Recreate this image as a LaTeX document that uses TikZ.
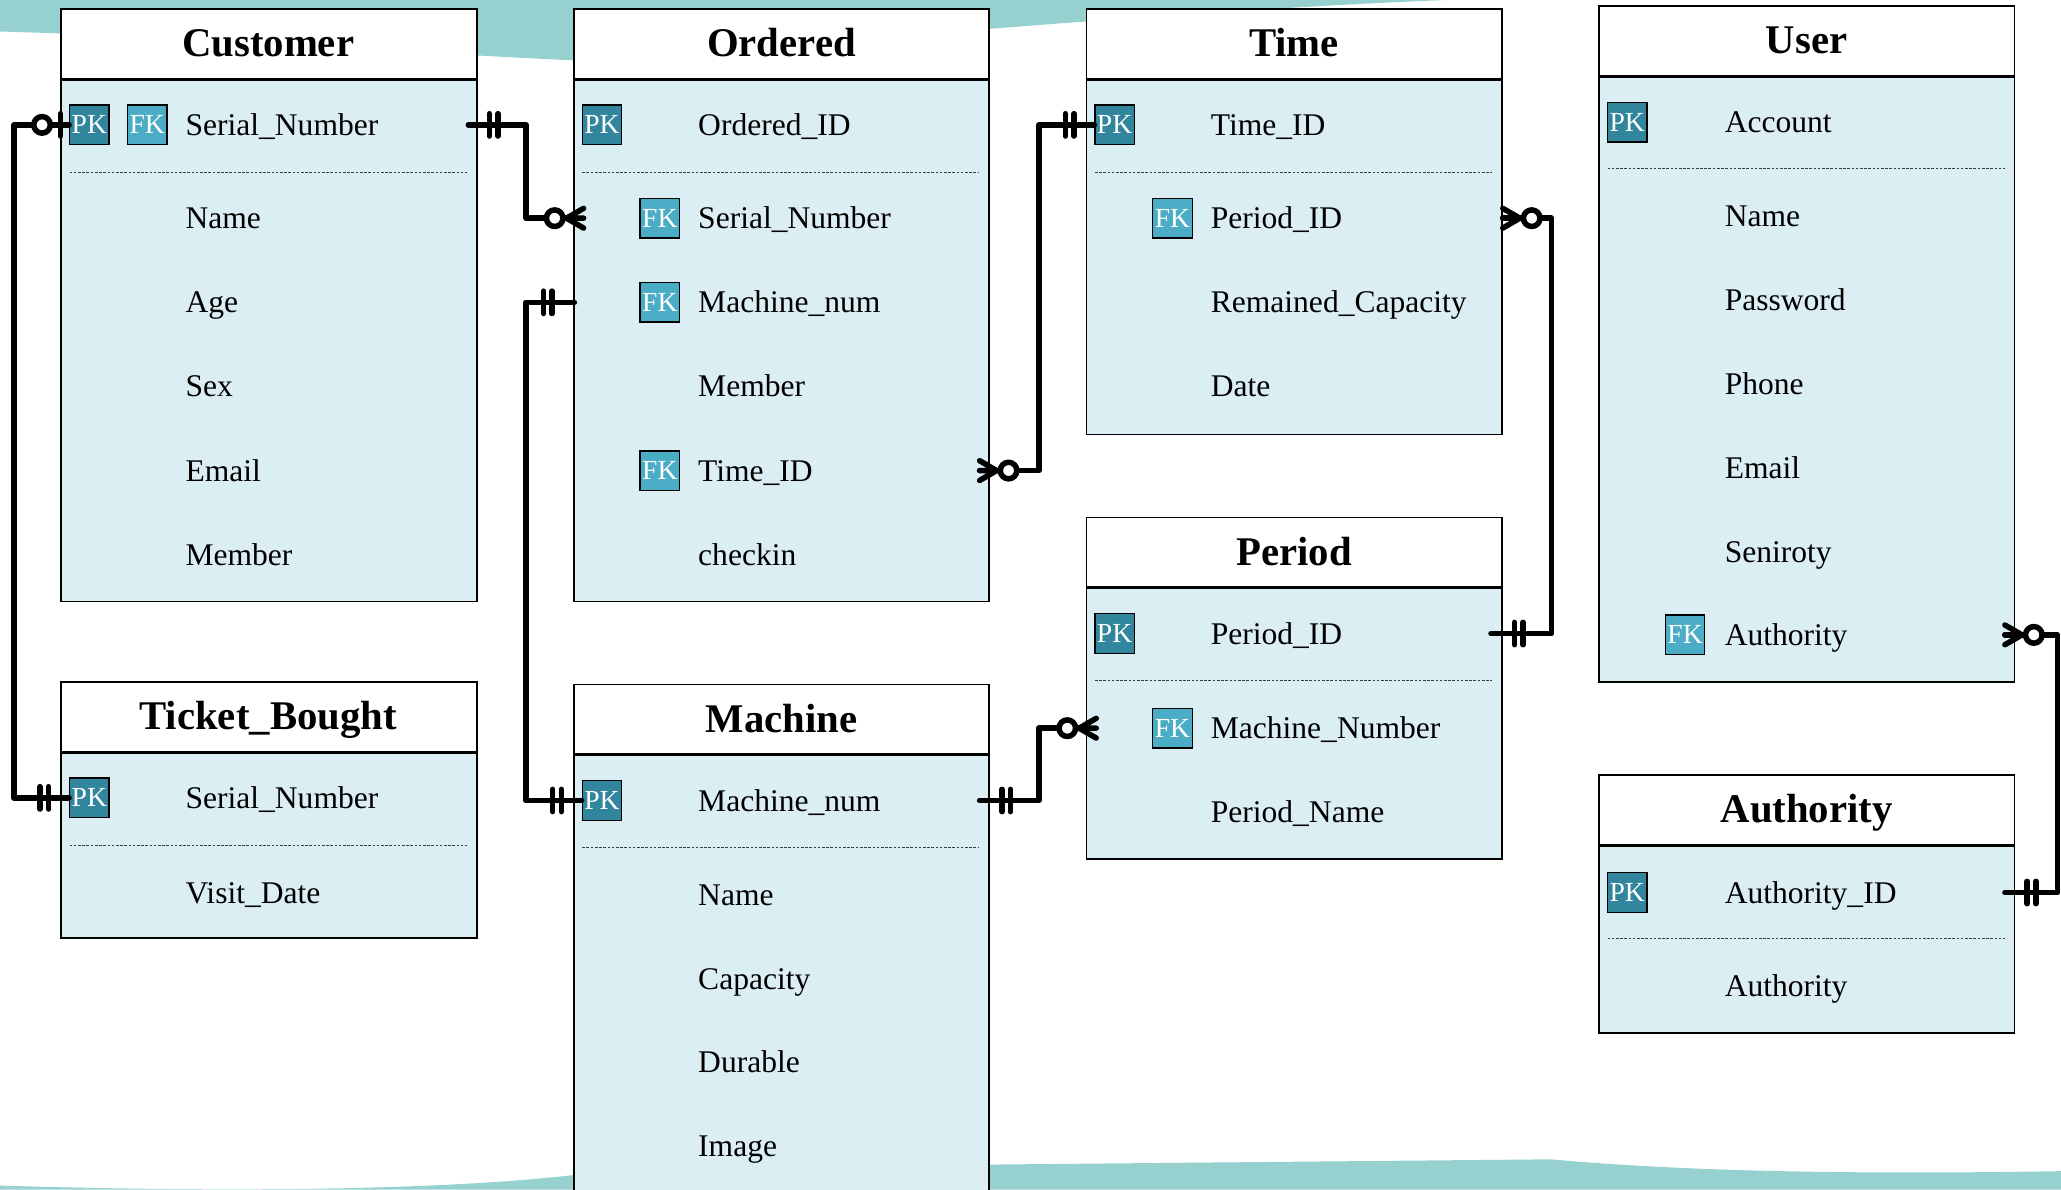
\documentclass[tikz,border=0pt]{standalone}
\usepackage{fontspec}
\setmainfont{Liberation Serif}
\usetikzlibrary{calc}
\definecolor{bodyblue}{RGB}{219,238,244}
\definecolor{pkc}{RGB}{49,133,156}
\definecolor{fkc}{RGB}{75,172,198}
\definecolor{bgteal}{RGB}{150,208,207}
\definecolor{sepgray}{RGB}{60,60,60}
\newcommand\ttlfont{\fontsize{31}{31}\selectfont\bfseries}
\newcommand\fldfont{\fontsize{24}{24}\selectfont}
\newcommand\bdgfont{\fontsize{21}{21}\selectfont}
\begin{document}
\begin{tikzpicture}[x=1pt,y=-1pt,
  hdr/.style={draw, line width=1.3pt, fill=white, minimum width=316pt, minimum height=54pt, inner sep=0pt, anchor=north west},
  bdy/.style={draw, line width=1.3pt, fill=bodyblue, minimum width=316pt, inner sep=0pt, anchor=north west},
  ttl/.style={font=\ttlfont, anchor=base, inner sep=0pt},
  fld/.style={font=\fldfont, anchor=base west, inner sep=0pt},
  pkb/.style={draw=black, line width=1pt, fill=pkc, text=white, minimum width=30pt, minimum height=30pt, inner sep=0pt, font=\bdgfont},
  fkb/.style={pkb, fill=fkc},
  sep/.style={draw=sepgray, line width=0.9pt, dash pattern=on 2pt off 1.2pt},
  divl/.style={line width=2pt},
  rel/.style={line width=4.2pt, line cap=round, line join=round},
  pics/oneone/.style={code={\draw[rel] (-9,-8.5)--(-9,8.5) (-15.5,-8.5)--(-15.5,8.5);}},
  pics/zeroone/.style={code={\draw[rel] (0,-8.5)--(0,8.5); \draw[rel,fill=white] (-14,0) circle (6.3);}},
  pics/zeromany/.style={code={\draw[rel] (-5,0)--(8,-7.5) (-5,0)--(8,0) (-5,0)--(8,7.5); \draw[rel,fill=white] (-14,0) circle (6.3);}}
]
\useasboundingbox (0,0) rectangle (1568,905);
% background waves
\fill[bgteal] (0,0) -- (1100,0) .. controls (900,8) and (650,30) .. (460,47) .. controls (300,40) and (150,28) .. (0,24) -- cycle;
\fill[bgteal] (0,902) .. controls (200,908) and (350,904) .. (436,894) -- (753,886) -- (1180,882) .. controls (1300,893) and (1450,893) .. (1568,891) -- (1568,905) -- (0,905) -- cycle;

% ---------- Customer ----------
\node[hdr] (cust-h) at (46,6) {};
\node[bdy, minimum height=397pt] (cust) at (46,60) {};
\draw[divl] (cust.north west) -- (cust.north east);
\node[ttl] (cust-t) at (204,43) {Customer};
\node[pkb] (cust-pk) at (68,95) {PK};
\node[fkb] (cust-fk) at (112,95) {FK};
\node[fld] (cust-f1) at (141,103) {Serial\_Number};
\draw[sep] (53,131) -- (355,131);
\node[fld] (cust-f2) at (141,174) {Name};
\node[fld] (cust-f3) at (141,238) {Age};
\node[fld] (cust-f4) at (141,302) {Sex};
\node[fld] (cust-f5) at (141,366) {Email};
\node[fld] (cust-f6) at (141,430) {Member};

% ---------- Ordered ----------
\node[hdr] (ord-h) at (436,6) {};
\node[bdy, minimum height=397pt] (ord) at (436,60) {};
\draw[divl] (ord.north west) -- (ord.north east);
\node[ttl] (ord-t) at (594.5,43) {Ordered};
\node[pkb] (ord-pk) at (458,95) {PK};
\node[fld] (ord-f1) at (531,103) {Ordered\_ID};
\draw[sep] (443,131) -- (745,131);
\node[fkb] (ord-sn) at (502,166) {FK};
\node[fld] (ord-f2) at (531,174) {Serial\_Number};
\node[fkb] (ord-mn) at (502,230) {FK};
\node[fld] (ord-f3) at (531,238) {Machine\_num};
\node[fld] (ord-f4) at (531,302) {Member};
\node[fkb] (ord-tid) at (502,358) {FK};
\node[fld] (ord-f5) at (531,366) {Time\_ID};
\node[fld] (ord-f6) at (531,430) {checkin};

% ---------- Time ----------
\node[hdr] (time-h) at (826,6) {};
\node[bdy, minimum height=270pt] (time) at (826,60) {};
\draw[divl] (time.north west) -- (time.north east);
\node[ttl] (time-t) at (984.5,43) {Time};
\node[pkb] (time-pk) at (848,95) {PK};
\node[fld] (time-f1) at (921,103) {Time\_ID};
\draw[sep] (833,131) -- (1135,131);
\node[fkb] (time-pid) at (892,166) {FK};
\node[fld] (time-f2) at (921,174) {Period\_ID};
\node[fld] (time-f3) at (921,238) {Remained\_Capacity};
\node[fld] (time-f4) at (921,302) {Date};

% ---------- User ----------
\node[hdr] (user-h) at (1216,4) {};
\node[bdy, minimum height=460pt] (user) at (1216,58) {};
\draw[divl] (user.north west) -- (user.north east);
\node[ttl] (user-t) at (1374.5,41) {User};
\node[pkb] (user-pk) at (1238,93) {PK};
\node[fld] (user-f1) at (1312,101) {Account};
\draw[sep] (1223,128) -- (1525,128);
\node[fld] (user-f2) at (1312,172) {Name};
\node[fld] (user-f3) at (1312,236) {Password};
\node[fld] (user-f4) at (1312,300) {Phone};
\node[fld] (user-f5) at (1312,364) {Email};
\node[fld] (user-f6) at (1312,428) {Seniroty};
\node[fkb] (user-au) at (1282,483) {FK};
\node[fld] (user-f7) at (1312,491) {Authority};

% ---------- Ticket_Bought ----------
\node[hdr] (tb-h) at (46,518) {};
\node[bdy, minimum height=141pt] (tb) at (46,572) {};
\draw[divl] (tb.north west) -- (tb.north east);
\node[ttl] (tb-t) at (204,555) {Ticket\_Bought};
\node[pkb] (tb-pk) at (68,607) {PK};
\node[fld] (tb-f1) at (141,615) {Serial\_Number};
\draw[sep] (53,643) -- (355,643);
\node[fld] (tb-f2) at (141,687) {Visit\_Date};

% ---------- Machine ----------
\node[hdr] (mach-h) at (436,520) {};
\node[bdy, minimum height=345pt] (mach) at (436,574) {};
\draw[divl] (mach.north west) -- (mach.north east);
\node[ttl] (mach-t) at (594.5,557) {Machine};
\node[pkb] (mach-pk) at (458,609) {PK};
\node[fld] (mach-f1) at (531,617) {Machine\_num};
\draw[sep] (443,645) -- (745,645);
\node[fld] (mach-f2) at (531,689) {Name};
\node[fld] (mach-f3) at (531,753) {Capacity};
\node[fld] (mach-f4) at (531,816) {Durable};
\node[fld] (mach-f5) at (531,880) {Image};

% ---------- Period ----------
\node[hdr] (per-h) at (826,393) {};
\node[bdy, minimum height=206pt] (per) at (826,447) {};
\draw[divl] (per.north west) -- (per.north east);
\node[ttl] (per-t) at (984.5,430) {Period};
\node[pkb] (per-pk) at (848,482) {PK};
\node[fld] (per-f1) at (921,490) {Period\_ID};
\draw[sep] (833,518) -- (1135,518);
\node[fkb] (per-mn) at (892,554) {FK};
\node[fld] (per-f2) at (921,562) {Machine\_Number};
\node[fld] (per-f3) at (921,626) {Period\_Name};

% ---------- Authority ----------
\node[hdr] (auth-h) at (1216,589) {};
\node[bdy, minimum height=142pt] (auth) at (1216,643) {};
\draw[divl] (auth.north west) -- (auth.north east);
\node[ttl] (auth-t) at (1374.5,626) {Authority};
\node[pkb] (auth-pk) at (1238,679) {PK};
\node[fld] (auth-f1) at (1312,687) {Authority\_ID};
\draw[sep] (1223,714) -- (1525,714);
\node[fld] (auth-f2) at (1312,758) {Authority};

% ---------- Relationships ----------
% Customer -- Ticket_Bought
\draw[rel] (cust-pk.west) -- ++(-42,0) |- (tb-pk.west);
\pic at (cust.west |- cust-pk) {zeroone};
\pic at (tb.west |- tb-pk) {oneone};
% Customer -- Ordered
\draw[rel] ($(cust.east |- cust-pk)+(-7,0)$) -- ++(44,0) |- (ord.west |- ord-sn);
\pic[rotate=180] at (cust.east |- cust-pk) {oneone};
\pic at (ord.west |- ord-sn) {zeromany};
% Ordered -- Machine
\draw[rel] ($(ord.west |- ord-mn)+(1,0)$) -- ++(-37,0) |- (mach-pk.west);
\pic at ($(ord.west |- ord-mn)+(-7,0)$) {oneone};
\pic at (mach.west |- mach-pk) {oneone};
% Ordered -- Time
\draw[rel] ($(ord.east |- ord-tid)+(-8,0)$) -- ++(45,0) |- (time-pk.west);
\pic[rotate=180] at (ord.east |- ord-tid) {zeromany};
\pic at (time.west |- time-pk) {oneone};
% Time -- Period
\draw[rel] (time.east |- time-pid) -- ++(37,0) |- ($(per.east |- per-pk)+(-9,0)$);
\pic[rotate=180] at ($(time.east |- time-pid)+(8,0)$) {zeromany};
\pic[rotate=180] at (per.east |- per-pk) {oneone};
% Machine -- Period
\draw[rel] ($(mach.east |- mach-pk)+(-8,0)$) -- ++(45,0) |- (per.west |- per-mn);
\pic[rotate=180] at (mach.east |- mach-pk) {oneone};
\pic at (per.west |- per-mn) {zeromany};
% User -- Authority
\draw[rel] ($(user.east |- user-au)+(-8,0)$) -- ++(40,0) |- ($(auth.east |- auth-pk)+(-8,0)$);
\pic[rotate=180] at (user.east |- user-au) {zeromany};
\pic[rotate=180] at (auth.east |- auth-pk) {oneone};
\end{tikzpicture}
\end{document}
